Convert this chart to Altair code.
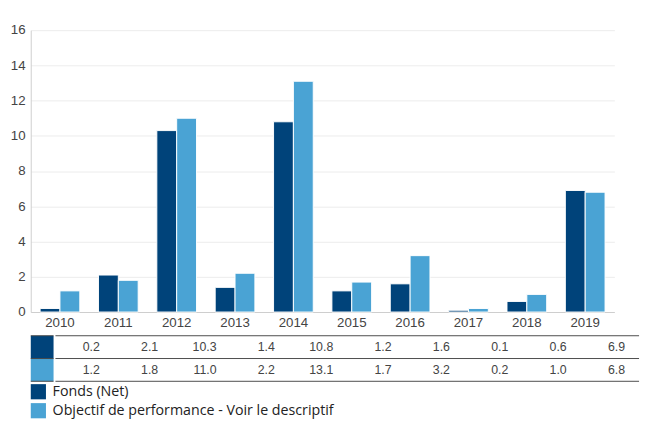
import altair as alt
import pandas as pd

years = ["2010", "2011", "2012", "2013", "2014", "2015", "2016", "2017", "2018", "2019"]
series = ["Fonds (Net)", "Objectif de performance - Voir le descriptif"]
fonds = [0.2, 2.1, 10.3, 1.4, 10.8, 1.2, 1.6, 0.1, 0.6, 6.9]
objectif = [1.2, 1.8, 11.0, 2.2, 13.1, 1.7, 3.2, 0.2, 1.0, 6.8]
colors = ["#00437A", "#4AA3D4"]
y_ticks = [0, 2, 4, 6, 8, 10, 12, 14, 16]

rows = []
for i, (name, vals) in enumerate(zip(series, [fonds, objectif])):
    for y, v in zip(years, vals):
        rows.append({"year": y, "series": name, "value": v, "row": i, "rowmid": i + 0.5})
df = pd.DataFrame(rows)
series_df = pd.DataFrame({"series": series, "row": [0, 1], "row2": [1, 2],
                          "lg": [0.1, 1.1], "lg2": [0.9, 1.9], "lgm": [0.5, 1.5]})
lines_df = pd.DataFrame({"b": [0, 1, 2]})

AXFONT = "Liberation Sans"
PW = 615
color_scale = alt.Scale(domain=series, range=colors)
x_scale = alt.Scale(domain=years, paddingInner=0.32, paddingOuter=0.16)

bars = alt.Chart(df).mark_bar(stroke="white", strokeWidth=1).encode(
    x=alt.X("year:N", scale=x_scale, title=None,
            axis=alt.Axis(labelAngle=0, ticks=False, domainColor="#cccccc",
                          labelFont=AXFONT, labelFontSize=14, labelColor="#444444",
                          labelPadding=4, minExtent=24, maxExtent=24)),
    xOffset=alt.XOffset("series:N", sort=series, scale=alt.Scale(domain=series, paddingInner=0)),
    y=alt.Y("value:Q", scale=alt.Scale(domain=[0, 16]), title=None,
            axis=alt.Axis(values=y_ticks, ticks=False, domainColor="#cccccc",
                          gridColor="#ebebeb", labelFont=AXFONT, labelFontSize=14,
                          labelColor="#444444", labelPadding=6,
                          minExtent=24, maxExtent=24)),
    color=alt.Color("series:N", scale=color_scale, legend=None),
).properties(width=PW, height=297)

tyscale = alt.Scale(domain=[0, 2], reverse=True, nice=False, zero=False)

swatch = alt.Chart(series_df).mark_rect().encode(
    y=alt.Y("row:Q", scale=tyscale, axis=None),
    y2="row2:Q",
    color=alt.Color("series:N", scale=color_scale, legend=None),
)
sw_lines = alt.Chart(lines_df).mark_rule(color="#444444", strokeWidth=1).encode(
    y=alt.Y("b:Q", scale=tyscale, axis=None)
)
swatch_panel = alt.layer(swatch, sw_lines).properties(width=24, height=48)

table_text = alt.Chart(df).mark_text(align="right", dx=16, font=AXFONT, fontSize=13,
                                     color="#444444").encode(
    x=alt.X("year:N", scale=x_scale, axis=None),
    y=alt.Y("rowmid:Q", scale=tyscale, axis=None),
    text=alt.Text("value:Q", format=".1f"),
)
tb_lines = alt.Chart(lines_df).mark_rule(color="#444444", strokeWidth=1).encode(
    y=alt.Y("b:Q", scale=tyscale, axis=None)
)
table_panel = alt.layer(tb_lines, table_text).properties(width=PW, height=48)

lyscale = alt.Scale(domain=[0, 2], reverse=True, nice=False, zero=False)
leg_sw = alt.Chart(series_df).mark_rect().encode(
    x=alt.value(0), x2=alt.value(16),
    y=alt.Y("lg:Q", scale=lyscale, axis=None), y2="lg2:Q",
    color=alt.Color("series:N", scale=color_scale, legend=None),
)
leg_tx = alt.Chart(series_df).mark_text(align="left", baseline="middle", font="Open Sans",
                                        fontSize=15, color="#222222").encode(
    x=alt.value(23),
    y=alt.Y("lgm:Q", scale=lyscale, axis=None),
    text="series:N",
)
legend_panel = alt.layer(leg_sw, leg_tx).properties(width=PW + 24, height=40)

chart = alt.vconcat(
    bars,
    alt.hconcat(swatch_panel, table_panel, spacing=0),
    legend_panel,
    spacing=0,
).properties(
    padding={"top": 5, "left": 0, "right": 0, "bottom": 0}
).configure_view(stroke=None).configure_concat(spacing=0)

chart.save("out.html", embed_options={"renderer": "svg", "actions": False})
